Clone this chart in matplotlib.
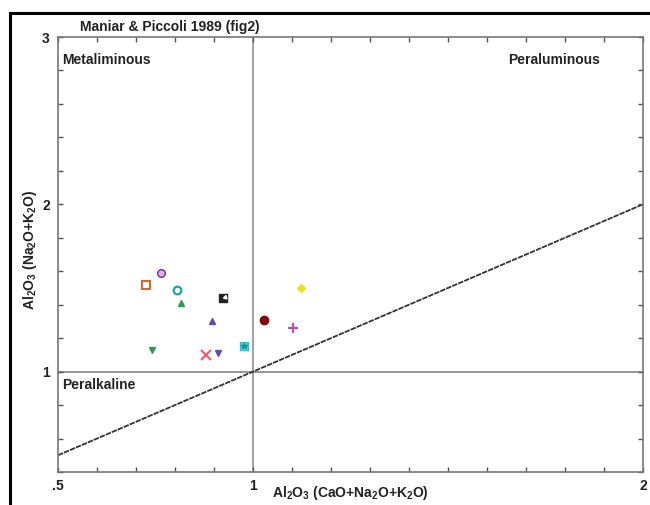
import matplotlib
matplotlib.use("Agg")
import matplotlib.pyplot as plt
from matplotlib.patches import Rectangle
from matplotlib.ticker import MultipleLocator, FixedLocator

plt.rcParams['font.family'] = ['Liberation Sans', 'DejaVu Sans']
plt.rcParams['mathtext.fontset'] = 'custom'
plt.rcParams['mathtext.rm'] = 'Liberation Sans:bold'
plt.rcParams['mathtext.bf'] = 'Liberation Sans:bold'
plt.rcParams['mathtext.default'] = 'rm'

# A/CNK vs A/NK values for each sample
acnk = [0.726, 0.764, 0.805, 0.815, 0.923, 0.895, 1.028, 1.123, 1.103, 0.977, 0.741, 0.879, 0.910]
ank = [1.52, 1.587, 1.49, 1.41, 1.44, 1.30, 1.31, 1.50, 1.26, 1.156, 1.13, 1.10, 1.11]
markers = ['s', 'o', 'o', '^', 's', '^', 'o', 'D', '+', 's', 'v', 'x', 'v']
faces = ['none', '#d7b2e6', 'none', '#2e9a55', '#222222', '#5a50b0', '#7a0a0a',
         '#f0e020', '#b050b0', '#5fd0dc', '#2e9a55', '#f06070', '#5a50b0']
edges = ['#c0703a', '#7b2a9e', '#19a8a8', '#2e9a55', '#222222', '#5a50b0', '#7a0a0a',
         '#f0e020', '#b050b0', '#3fb8c8', '#2e9a55', '#f06070', '#5a50b0']
sizes = [5.5, 5.5, 5.5, 5, 6, 5, 6, 4.5, 7, 5.5, 5, 7, 5]

x_ticks = [0.5, 1, 2]
x_ticklabels = ['.5', '1', '2']
y_ticks = [1, 2, 3]
y_ticklabels = ['1', '2', '3']

fig = plt.figure(figsize=(6.5, 5.05), dpi=100)
ax = fig.add_axes([58/650, 33/505, 585/650, 435/505])

# black frame around the sheet
fig.patches.append(Rectangle((10/650, -0.1), 1.2, (505-13)/505 + 0.1, transform=fig.transFigure,
                             fill=False, edgecolor='black', linewidth=2.2))

ax.axvline(1, color='#8a8a8a', lw=1.1, zorder=1)
ax.axhline(1, color='#7a7a7a', lw=1.1, zorder=1)
ax.plot([0.5, 2], [0.5, 2], color='#333333', lw=1.3, ls=(0, (3, 0.6)), zorder=1)

for i in range(len(acnk)):
    ax.plot(acnk[i], ank[i], marker=markers[i], ms=sizes[i], mfc=faces[i], mec=edges[i],
            mew=1.6 if faces[i] == 'none' or markers[i] in ('+', 'x') else 1.0, ls='none', zorder=3)

# inner decorations on two symbols
ax.plot(acnk[4] + 0.004, ank[4] + 0.006, marker=(3, 0, 225), ms=3, color='white', ls='none', zorder=4)
ax.plot(acnk[9], ank[9], marker='*', ms=4, color='#1f8fa0', ls='none', zorder=4)

ax.set_xlim(0.5, 2)
ax.set_ylim(0.4, 3)
ax.xaxis.set_major_locator(FixedLocator(x_ticks))
ax.set_xticklabels(x_ticklabels)
ax.yaxis.set_major_locator(FixedLocator(y_ticks))
ax.set_yticklabels(y_ticklabels)
ax.xaxis.set_minor_locator(MultipleLocator(0.1))
ax.yaxis.set_minor_locator(MultipleLocator(0.2))
ax.tick_params(which='both', direction='in', top=True, right=True, colors='#555555',
               labelcolor='#222222', labelsize=10, width=1, length=3.5)
ax.tick_params(axis='x', which='major', pad=5)
ax.tick_params(axis='y', which='major', pad=6)
for lab in ax.get_xticklabels() + ax.get_yticklabels():
    lab.set_fontweight('bold')
for s in ax.spines.values():
    s.set_color('#777777')
    s.set_linewidth(1.2)

fig.text(350/650, 1 - 493/505, r'Al$_2$O$_3$ (CaO+Na$_2$O+K$_2$O)', fontsize=10, fontweight='bold',
         color='#222222', ha='center', va='center')
fig.text(30/650, 1 - 250/505, r'Al$_2$O$_3$ (Na$_2$O+K$_2$O)', fontsize=10, fontweight='bold',
         color='#222222', ha='center', va='center', rotation=90)

fig.text(80/650, 1 - 27/505, 'Maniar & Piccoli 1989 (fig2)',
         fontsize=10, fontweight='bold', color='#222222', va='center', ha='left')
ax.text(0.51, 2.865, 'Metaliminous', fontsize=10, fontweight='bold', color='#222222', va='center')
ax.text(1.89, 2.865, 'Peraluminous', fontsize=10, fontweight='bold', color='#222222', va='center', ha='right')
ax.text(0.51, 0.92, 'Peralkaline', fontsize=10, fontweight='bold', color='#222222', va='center')

fig.savefig('out.png', dpi=100)
